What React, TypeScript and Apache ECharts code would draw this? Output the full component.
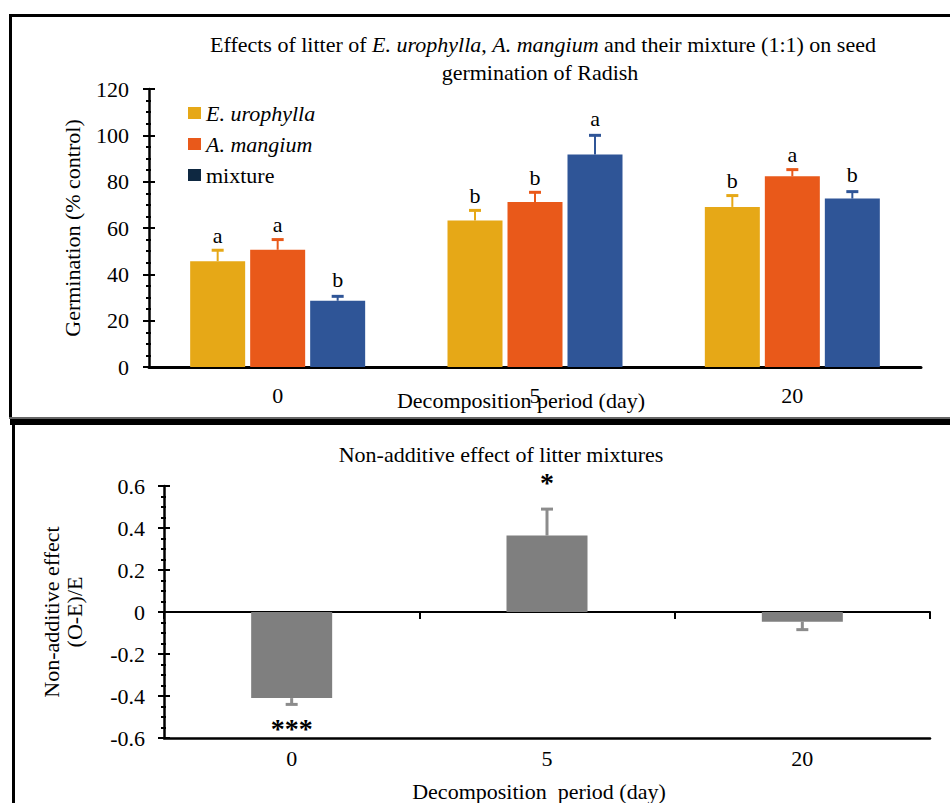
import React, { useEffect, useRef } from "react";
import * as echarts from "echarts";

// ---- data ----
const days = ["0", "5", "20"];
const seriesNames = ["E. urophylla", "A. mangium", "mixture"];
const euMean = [45.7, 63.2, 69.1];
const euCap = [50.4, 67.6, 74.0];
const amMean = [50.6, 71.2, 82.3];
const amCap = [55.0, 75.4, 85.2];
const mixMean = [28.6, 91.7, 72.7];
const mixCap = [30.5, 100.0, 75.7];
const euLetters = ["a", "b", "b"];
const amLetters = ["a", "b", "a"];
const mixLetters = ["b", "a", "b"];
const naeMean = [-0.41, 0.364, -0.046];
const naeCap = [-0.44, 0.49, -0.084];
const naeSig = ["***", "*", ""];

// ---- styles ----
const FONT = "'Liberation Serif', 'Times New Roman', serif";
const FS = 22;
const C_EU = "#E6A817";
const C_AM = "#E9591A";
const C_MIX = "#2F5597";
const C_MIX_LEG = "#0E2841";
const C_GRAY = "#7F7F7F";
const C_GRAY_ERR = "#8C8C8C";
const BAR_W = 55;
const BAR_GAP = 5;
const BAR_W2 = 81;

function errSeries(
  means: number[],
  caps: number[],
  labels: string[],
  color: string,
  offset: number,
  xIdx: number,
  yIdx: number,
  labelFont: number,
  labelBold: boolean,
  gapUp: number,
  gapDown: number,
  stemW: number,
  capHalf: number
) {
  return {
    type: "custom",
    xAxisIndex: xIdx,
    yAxisIndex: yIdx,
    silent: true,
    z: 5,
    data: means.map((v, i) => [i, v, caps[i]]),
    encode: { x: 0, y: [1, 2] },
    renderItem: (params: any, api: any) => {
      const i = api.value(0);
      const v = api.value(1);
      const c = api.value(2);
      const p0 = api.coord([i, v]);
      const p1 = api.coord([i, c]);
      const x = p0[0] + offset;
      const up = c >= v;
      const label = labels[params.dataIndex];
      return {
        type: "group",
        children: [
          {
            type: "line",
            shape: { x1: x, y1: p0[1], x2: x, y2: p1[1] },
            style: { stroke: color, lineWidth: stemW },
          },
          {
            type: "line",
            shape: { x1: x - capHalf, y1: p1[1], x2: x + capHalf, y2: p1[1] },
            style: { stroke: color, lineWidth: 3 },
          },
          {
            type: "text",
            x: x,
            y: up ? p1[1] - gapUp : p1[1] + gapDown,
            style: {
              text: label,
              fontFamily: FONT,
              fontSize: labelFont,
              fontWeight: labelBold ? "bold" : "normal",
              fill: "#000",
              align: "center",
              verticalAlign: "middle",
            },
          },
        ],
      };
    },
  };
}

export default function App() {
  const ref = useRef<HTMLDivElement>(null);
  useEffect(() => {
    if (!ref.current) return;
    const chart = echarts.init(ref.current, undefined, { renderer: "svg" });
    const txt = { fontFamily: FONT, fontSize: FS, color: "#000", fontWeight: "normal" as const };
    const off = BAR_W + BAR_GAP;
    const option: any = {
      animation: false,
      backgroundColor: "#fff",
      title: [
        {
          text: "Effects of litter of {i|E. urophylla}, {i|A. mangium} and their mixture (1:1) on seed",
          left: 543,
          top: 33,
          padding: 0,
          textAlign: "center",
          textStyle: { ...txt, rich: { i: { fontFamily: FONT, fontSize: FS, fontStyle: "italic", color: "#000" } } },
        },
        { text: "germination of Radish", left: 540, top: 61, padding: 0, textAlign: "center", textStyle: txt },
        { text: "Non-additive effect of litter mixtures", left: 501, top: 443, padding: 0, textAlign: "center", textStyle: txt },
      ],
      legend: {
        orient: "vertical",
        left: 188,
        top: 102,
        padding: 0,
        itemWidth: 13,
        itemHeight: 12,
        itemGap: 9,
        selectedMode: false,
        icon: "rect",
        data: [
          { name: seriesNames[0], itemStyle: { color: C_EU } },
          { name: seriesNames[1], itemStyle: { color: C_AM } },
          { name: seriesNames[2], itemStyle: { color: C_MIX_LEG } },
        ],
        formatter: (name: string) => (name === "mixture" ? name : `{i|${name}}`),
        textStyle: {
          ...txt,
          lineHeight: 20,
          rich: { i: { fontFamily: FONT, fontSize: FS, fontStyle: "italic", color: "#000", lineHeight: 20 } },
        },
      },
      grid: [
        { left: 149, right: 29, top: 89, height: 278 },
        { left: 164, right: 20, top: 486, height: 256 },
      ],
      xAxis: [
        {
          type: "category",
          gridIndex: 0,
          data: days,
          axisLine: { lineStyle: { color: "#000", width: 3 } },
          axisTick: { show: false },
          axisLabel: { ...txt, margin: 17 },
          name: "Decomposition period (day)",
          nameLocation: "middle",
          nameGap: 22,
          nameMoveOverlap: false,
          nameTextStyle: { ...txt, padding: [0, 28, 0, 0] },
        },
        {
          type: "category",
          gridIndex: 1,
          data: days,
          position: "bottom",
          axisLine: { onZero: true, lineStyle: { color: "#000", width: 2 } },
          axisTick: { show: true, length: 7, lineStyle: { color: "#000", width: 2 } },
          axisLabel: { show: false },
        },
        {
          type: "category",
          gridIndex: 1,
          data: days,
          position: "bottom",
          axisLine: { onZero: false, lineStyle: { color: "#000", width: 2.5 } },
          axisTick: { show: false },
          axisLabel: { ...txt, margin: 9 },
          name: "Decomposition  period (day)",
          nameLocation: "middle",
          nameGap: 42,
          nameMoveOverlap: false,
          nameTextStyle: { ...txt, padding: [0, 16, 0, 0] },
        },
      ],
      yAxis: [
        {
          type: "value",
          gridIndex: 0,
          position: "left",
          min: 0,
          max: 120,
          interval: 20,
          splitLine: { show: false },
          axisLine: { show: true, lineStyle: { color: "#000", width: 2.5 } },
          axisTick: { show: true, length: 6, lineStyle: { color: "#000", width: 2 } },
          minorTick: { show: true, splitNumber: 4, length: 3, lineStyle: { color: "#000", width: 2 } },
          axisLabel: { ...txt, margin: 20 },
          name: "Germination (% control)",
          nameLocation: "middle",
          nameGap: 66,
          nameMoveOverlap: false,
          nameTextStyle: { ...txt },
        },
        {
          type: "value",
          gridIndex: 0,
          position: "left",
          min: 0,
          max: 120,
          interval: 20,
          splitLine: { show: false },
          axisLine: { show: false },
          axisTick: { show: true, inside: true, length: 6, lineStyle: { color: "#000", width: 2 } },
          minorTick: { show: true, splitNumber: 4, length: 2, lineStyle: { color: "#000", width: 2 } },
          axisLabel: { show: false },
        },
        {
          type: "value",
          gridIndex: 1,
          position: "left",
          min: -0.6,
          max: 0.6,
          interval: 0.2,
          splitLine: { show: false },
          axisLine: { show: true, onZero: false, lineStyle: { color: "#000", width: 2.5 } },
          axisTick: { show: true, length: 6, lineStyle: { color: "#000", width: 2 } },
          minorTick: { show: true, splitNumber: 4, length: 3, lineStyle: { color: "#000", width: 2 } },
          axisLabel: { ...txt, margin: 19 },
          name: "Non-additive effect\n(O-E)/E",
          nameLocation: "middle",
          nameGap: 78,
          nameMoveOverlap: false,
          nameTextStyle: { ...txt, lineHeight: 23 },
        },
        {
          type: "value",
          gridIndex: 1,
          position: "left",
          min: -0.6,
          max: 0.6,
          interval: 0.2,
          splitLine: { show: false },
          axisLine: { show: false, onZero: false },
          axisTick: { show: true, inside: true, length: 6, lineStyle: { color: "#000", width: 2 } },
          minorTick: { show: true, splitNumber: 4, length: 2, lineStyle: { color: "#000", width: 2 } },
          axisLabel: { show: false },
        },
      ],
      series: [
        {
          name: seriesNames[0],
          type: "bar",
          xAxisIndex: 0,
          yAxisIndex: 0,
          data: euMean,
          barWidth: BAR_W,
          barGap: `${(BAR_GAP / BAR_W) * 100}%`,
          itemStyle: { color: C_EU },
        },
        {
          name: seriesNames[1],
          type: "bar",
          xAxisIndex: 0,
          yAxisIndex: 0,
          data: amMean,
          barWidth: BAR_W,
          barGap: `${(BAR_GAP / BAR_W) * 100}%`,
          itemStyle: { color: C_AM },
        },
        {
          name: seriesNames[2],
          type: "bar",
          xAxisIndex: 0,
          yAxisIndex: 0,
          data: mixMean,
          barWidth: BAR_W,
          barGap: `${(BAR_GAP / BAR_W) * 100}%`,
          itemStyle: { color: C_MIX },
        },
        errSeries(euMean, euCap, euLetters, C_EU, -off, 0, 0, FS, false, 15, 15, 2, 6),
        errSeries(amMean, amCap, amLetters, C_AM, 0, 0, 0, FS, false, 15, 15, 2, 6),
        errSeries(mixMean, mixCap, mixLetters, C_MIX, off, 0, 0, FS, false, 17, 15, 2, 6),
        {
          name: "Non-additive effect",
          type: "bar",
          xAxisIndex: 1,
          yAxisIndex: 2,
          data: naeMean,
          barWidth: BAR_W2,
          itemStyle: { color: C_GRAY },
        },
        errSeries(naeMean, naeCap, naeSig, C_GRAY_ERR, 0, 1, 2, 28, true, 27, 24, 3, 6),
      ],
      graphic: [
        { type: "rect", shape: { x: 9, y: 14, width: 941, height: 3 }, style: { fill: "#000" } },
        { type: "rect", shape: { x: 9, y: 14, width: 3, height: 405 }, style: { fill: "#000" } },
        { type: "rect", shape: { x: 9, y: 417, width: 941, height: 2 }, style: { fill: "#666" } },
        { type: "rect", shape: { x: 10, y: 419, width: 940, height: 6 }, style: { fill: "#000" } },
        { type: "rect", shape: { x: 12, y: 425, width: 3, height: 378 }, style: { fill: "#000" } },
      ],
    };
    chart.setOption(option);
    return () => chart.dispose();
  }, []);
  return (
    <div
      ref={ref}
      style={{ position: "absolute", left: 0, top: 0, width: 950, height: 803, background: "#fff" }}
    />
  );
}
